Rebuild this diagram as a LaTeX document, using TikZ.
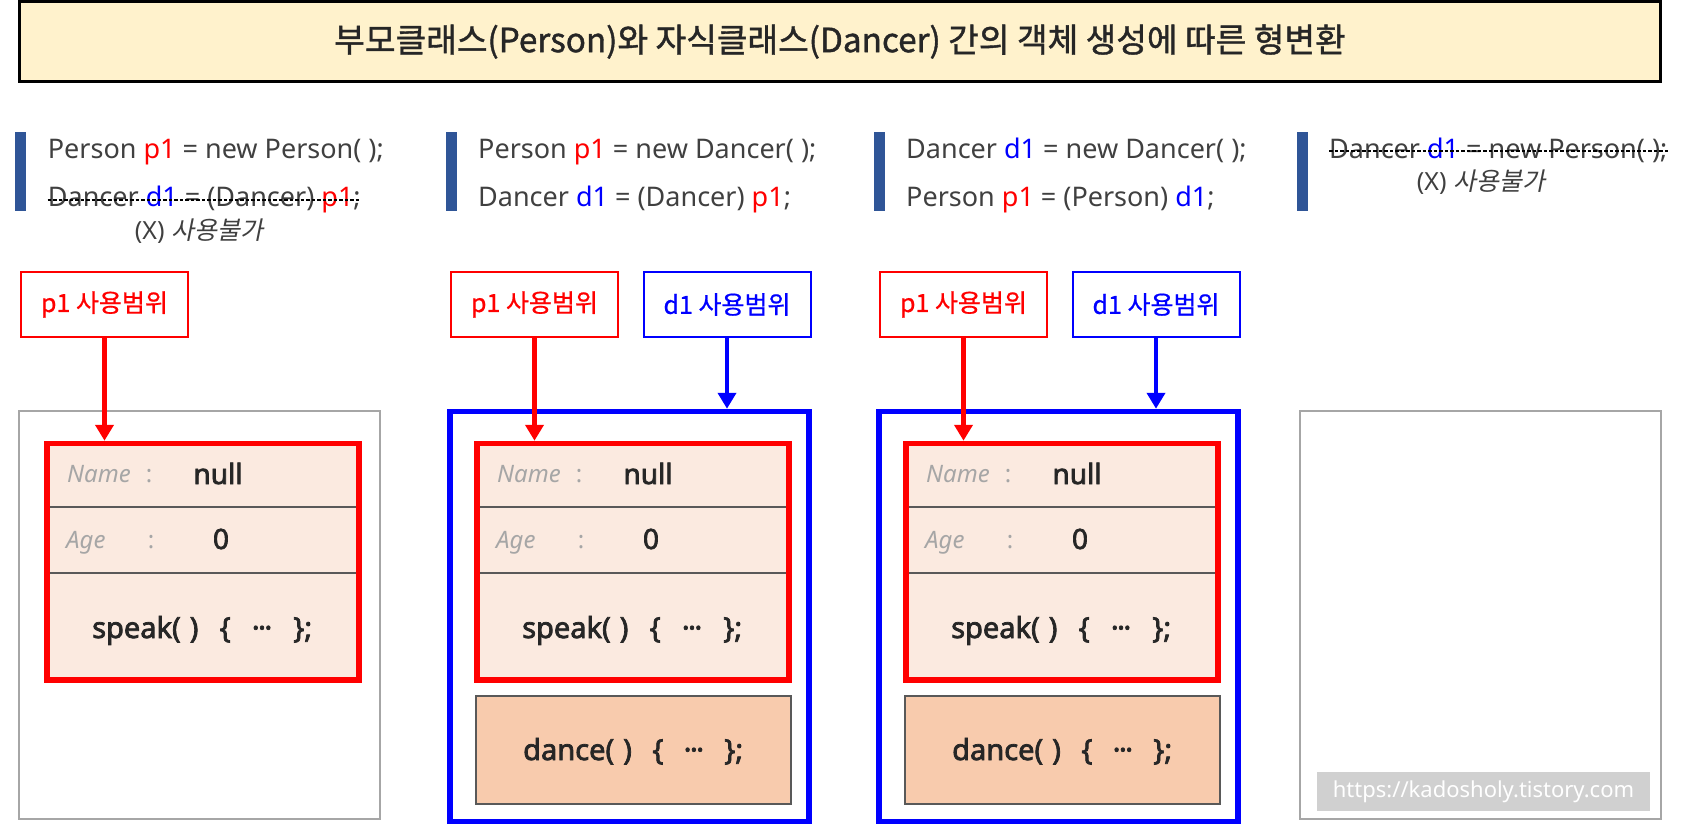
\documentclass[tikz,border=0pt]{standalone}
\usepackage{fontspec}
\setmainfont{Noto Sans}
\newfontfamily\kr{Noto Sans CJK KR}
\newfontfamily\krm{Noto Sans CJK KR}[FakeBold=1.2]
\newfontfamily\krl{Noto Sans CJK KR}[FakeBold=0.7]
\newfontfamily\krit{Noto Sans CJK KR}[FakeSlant=0.2]
\newfontfamily\semib{Noto Sans}[FakeBold=2.5]
\usetikzlibrary{arrows.meta}
\definecolor{titlefill}{HTML}{FFF2CC}
\definecolor{barblue}{HTML}{2F5597}
\definecolor{codegray}{HTML}{404040}
\definecolor{pred}{HTML}{FF0000}
\definecolor{dblue}{HTML}{0000FF}
\definecolor{objfill}{HTML}{FBEAE0}
\definecolor{dancefill}{HTML}{F8CBAD}
\definecolor{divgray}{HTML}{595959}
\definecolor{darktext}{HTML}{262626}
\definecolor{lightlbl}{HTML}{A6A6A6}
\definecolor{wmfill}{HTML}{D0D0D0}
\newcommand\pone{\textcolor{pred}{p1}}
\newcommand\done{\textcolor{dblue}{d1}}
\newcommand\mdots{·\kern-1.5pt·\kern-1.5pt·}
\newcommand\mbody[1]{\hbox to 220pt{#1(\kern1.5pt\ )\hfil\{\hfil\mdots\hfil\};}}
\tikzset{
  titlebox/.style={draw=black, line width=2.6pt, fill=titlefill, inner sep=0pt,
    minimum width=1641pt, minimum height=80pt, text=darktext,
    font=\krm\fontsize{33.3}{38}\selectfont},
  codebar/.style={fill=barblue, draw=none, inner sep=0pt, minimum width=11pt, minimum height=79pt},
  codetext/.style={anchor=base west, inner sep=0pt, text=codegray, font=\fontsize{27}{30}\selectfont},
  strike/.style={draw=black, line width=1.5pt, dash pattern=on 3.5pt off 2pt},
  notusable/.style={anchor=base, inner sep=0pt, text=codegray, font=\fontsize{25}{28}\selectfont},
  scopelbl/.style={rectangle, line width=2pt, fill=white, inner sep=0pt,
    minimum width=167pt, minimum height=65pt, font=\krl\fontsize{25}{28}\selectfont},
  redarrow/.style={draw=pred, line width=4.5pt, -{Triangle[width=18pt,length=16pt]}},
  bluearrow/.style={draw=dblue, line width=4.5pt, -{Triangle[width=18pt,length=16pt]}},
  graybox/.style={draw=lightlbl, line width=2pt, inner sep=0pt, minimum width=361pt, minimum height=408pt},
  bluebox/.style={draw=dblue, line width=5.5pt, inner sep=0pt, minimum width=359pt, minimum height=410pt},
  objbox/.style={draw=pred, fill=objfill, line width=5.5pt, inner sep=0pt, minimum width=312pt, minimum height=236.5pt},
  divider/.style={draw=divgray, line width=1.4pt},
  dancebox/.style={draw=divgray, fill=dancefill, line width=1.5pt, inner sep=0pt, minimum width=315pt, minimum height=108pt},
  fieldname/.style={anchor=base west, inner sep=0pt, text=lightlbl, font=\itshape\fontsize{24}{28}\selectfont},
  fieldcolon/.style={anchor=base, inner sep=0pt, text=lightlbl, font=\fontsize{24}{28}\selectfont},
  fieldval/.style={anchor=base, inner sep=0pt, text=darktext, font=\semib\fontsize{28}{30}\selectfont},
  method/.style={anchor=base west, inner sep=0pt, text=darktext, font=\semib\fontsize{29}{32}\selectfont},
  watermark/.style={fill=wmfill, draw=none, inner sep=0pt, minimum width=333pt, minimum height=39pt,
    text=white, font=\fontsize{22}{26}\selectfont}
}
\begin{document}
\begin{tikzpicture}[x=1pt,y=-1pt]
\useasboundingbox[fill=white] (0,0) rectangle (1708,832);

% title
\node[titlebox] (title) at (840,41.5) {부모클래스(Person)와 자식클래스(Dancer) 간의 객체 생성에 따른 형변환};

% code bars
\node[codebar] (bar1) at (20.5,171.5) {};
\node[codebar] (bar2) at (451,171.5) {};
\node[codebar] (bar3) at (879.5,171.5) {};
\node[codebar] (bar4) at (1302.5,171.5) {};

% code lines
\node[codetext] (c1a) at (47.7,158) {Person \pone{} = new Person( );};
\node[codetext] (c1b) at (47.7,206) {Dancer \done{} = (Dancer) \pone;};
\draw[strike] ([yshift=-1]c1b.west) -- ([yshift=-1]c1b.east);
\node[notusable] (x1) at (199,239) {(X) {\krit 사용불가}};

\node[codetext] (c2a) at (478,158) {Person \pone{} = new Dancer( );};
\node[codetext] (c2b) at (478,206) {Dancer \done{} = (Dancer) \pone;};

\node[codetext] (c3a) at (906,158) {Dancer \done{} = new Dancer( );};
\node[codetext] (c3b) at (906,206) {Person \pone{} = (Person) \done;};

\node[codetext] (c4a) at (1329,158) {Dancer \done{} = new Person( );};
\draw[strike] ([yshift=-1]c4a.west) -- ([yshift=-1]c4a.east);
\node[notusable] (x4) at (1481,190) {(X) {\krit 사용불가}};

% outer boxes
\node[graybox] (g1) at (199.5,615) {};
\node[bluebox] (b2) at (629.5,616.5) {};
\node[bluebox] (b3) at (1058.5,616.5) {};
\node[graybox] (g4) at (1480.5,615) {};

% object boxes
\foreach \dx/\n in {0/1,430/2,859/3}{
  \node[objbox] (r\n) at (\dx+203,561.75) {};
  \draw[divider] (\dx+50,507) -- (\dx+356,507);
  \draw[divider] (\dx+50,573) -- (\dx+356,573);
  \node[fieldname] (nm\n) at (\dx+67,482) {Name};
  \node[fieldcolon] (nc\n) at (\dx+149,482) {:};
  \node[fieldval] (nv\n) at (\dx+218,484) {null};
  \node[fieldname] (ag\n) at (\dx+66,548) {Age};
  \node[fieldcolon] (ac\n) at (\dx+151,548) {:};
  \node[fieldval] (av\n) at (\dx+221,549) {0};
  \node[method] (sp\n) at (\dx+92,638) {\mbody{speak}};
}
\foreach \dx/\n in {430/2,859/3}{
  \node[dancebox] (dn\n) at (\dx+203.5,750) {};
  \node[method] (dt\n) at (\dx+93,760) {\mbody{dance}};
}

% scope labels
\node[scopelbl, draw=pred, text=pred] (l1) at (104.5,304.5) {p1 사용범위};
\node[scopelbl, draw=pred, text=pred] (l2) at (534.5,304.5) {p1 사용범위};
\node[scopelbl, draw=dblue, text=dblue] (d2) at (727,304.5) {d1 사용범위};
\node[scopelbl, draw=pred, text=pred] (l3) at (963.5,304.5) {p1 사용범위};
\node[scopelbl, draw=dblue, text=dblue] (d3) at (1156,304.5) {d1 사용범위};

% arrows
\draw[bluearrow] (d2.south) -- (d2.south |- b2.north);
\draw[bluearrow] (d3.south) -- (d3.south |- b3.north);
\draw[redarrow] (l1.south) -- (l1.south |- r1.north);
\draw[redarrow] (l2.south) -- (l2.south |- r2.north);
\draw[redarrow] (l3.south) -- (l3.south |- r3.north);

% watermark
\node[watermark] (wm) at (1483.5,791.5) {https://kadosholy.tistory.com};
\end{tikzpicture}
\end{document}
